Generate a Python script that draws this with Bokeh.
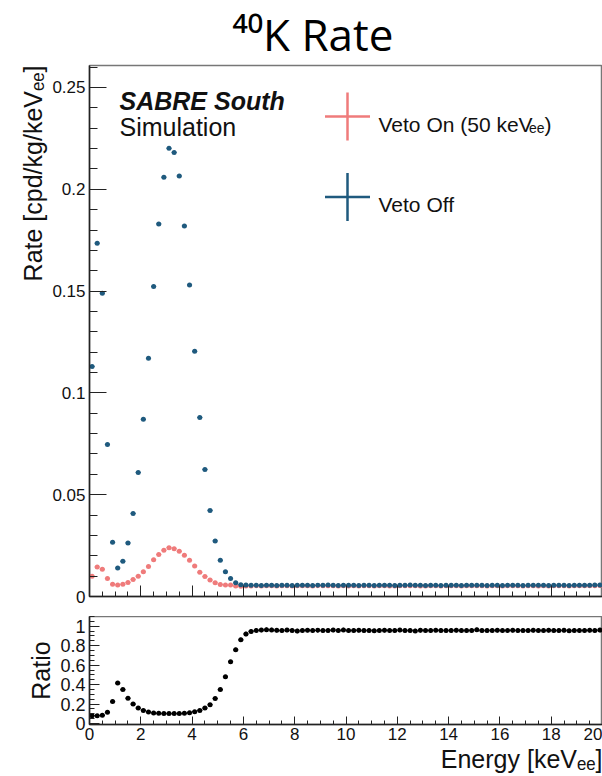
import math
from bokeh.plotting import figure
from bokeh.layouts import column
from bokeh.models import (ColumnDataSource, Range1d, SingleIntervalTicker,
                          NumeralTickFormatter, CustomJSTickFormatter, Label, Title)
from bokeh.embed import file_html
from bokeh.resources import INLINE

# ---------------- data ----------------
e_min, e_max, n_bins = 0.0, 20.0, 100
bin_w = (e_max - e_min) / n_bins
energy = [round(e_min + bin_w * (i + 0.5), 3) for i in range(n_bins)]  # bin centres [keVee]

rate_veto_off = [
    0.1130, 0.1735, 0.1490, 0.0747, 0.0266, 0.0140, 0.0173, 0.0263, 0.0408, 0.0609,
    0.0870, 0.1170, 0.1523, 0.1830, 0.2059, 0.2201, 0.2181, 0.2065, 0.1820, 0.1530,
    0.1204, 0.0879, 0.0624, 0.0423, 0.0273, 0.0178, 0.0121, 0.0088, 0.0067, 0.0058,
    0.0056, 0.0055, 0.0055, 0.0054, 0.0055, 0.0055, 0.0054, 0.0055, 0.0055, 0.0054,
    0.0055, 0.0055, 0.0055, 0.0054, 0.0055, 0.0055, 0.0056, 0.0055, 0.0054, 0.0055,
    0.0055, 0.0055, 0.0054, 0.0055, 0.0055, 0.0054, 0.0055, 0.0055, 0.0055, 0.0054,
    0.0055, 0.0055, 0.0056, 0.0055, 0.0055, 0.0054, 0.0055, 0.0055, 0.0054, 0.0055,
    0.0055, 0.0055, 0.0054, 0.0055, 0.0055, 0.0055, 0.0055, 0.0054, 0.0055, 0.0055,
    0.0054, 0.0055, 0.0055, 0.0055, 0.0054, 0.0055, 0.0055, 0.0055, 0.0055, 0.0054,
    0.0055, 0.0055, 0.0055, 0.0054, 0.0055, 0.0055, 0.0055, 0.0055, 0.0056, 0.0056,
]

rate_veto_on = [
    0.0100, 0.0145, 0.0134, 0.0088, 0.0060, 0.0057, 0.0060, 0.0069, 0.0083, 0.0100,
    0.0121, 0.0147, 0.0180, 0.0206, 0.0227, 0.0240, 0.0235, 0.0222, 0.0202, 0.0178,
    0.0150, 0.0119, 0.0098, 0.0081, 0.0067, 0.0059, 0.0056, 0.0056, 0.0051, 0.0050,
    0.0052, 0.0052, 0.0053, 0.0052, 0.0053, 0.0053, 0.0052, 0.0053, 0.0053, 0.0052,
    0.0053, 0.0053, 0.0053, 0.0052, 0.0053, 0.0053, 0.0053, 0.0053, 0.0052, 0.0053,
    0.0052, 0.0053, 0.0052, 0.0053, 0.0053, 0.0052, 0.0053, 0.0053, 0.0052, 0.0052,
    0.0053, 0.0053, 0.0053, 0.0053, 0.0052, 0.0052, 0.0053, 0.0053, 0.0052, 0.0053,
    0.0053, 0.0053, 0.0052, 0.0053, 0.0053, 0.0053, 0.0053, 0.0052, 0.0053, 0.0053,
    0.0052, 0.0053, 0.0053, 0.0053, 0.0052, 0.0053, 0.0053, 0.0052, 0.0053, 0.0052,
    0.0053, 0.0053, 0.0053, 0.0052, 0.0053, 0.0053, 0.0053, 0.0053, 0.0053, 0.0054,
]

ratio = [
    0.081, 0.081, 0.084, 0.115, 0.226, 0.416, 0.349, 0.260, 0.200, 0.159,
    0.135, 0.119, 0.109, 0.105, 0.102, 0.102, 0.102, 0.102, 0.105, 0.112,
    0.122, 0.135, 0.159, 0.193, 0.257, 0.349, 0.480, 0.636, 0.758, 0.860,
    0.920, 0.947, 0.957, 0.960, 0.965, 0.962, 0.958, 0.955, 0.960, 0.957,
    0.951, 0.957, 0.959, 0.956, 0.958, 0.955, 0.957, 0.960, 0.956, 0.962,
    0.955, 0.957, 0.958, 0.955, 0.957, 0.953, 0.957, 0.958, 0.957, 0.956,
    0.960, 0.955, 0.957, 0.952, 0.958, 0.957, 0.956, 0.959, 0.957, 0.955,
    0.957, 0.958, 0.955, 0.956, 0.957, 0.963, 0.955, 0.956, 0.957, 0.958,
    0.955, 0.957, 0.958, 0.956, 0.957, 0.955, 0.958, 0.957, 0.956, 0.958,
    0.957, 0.955, 0.958, 0.953, 0.957, 0.956, 0.957, 0.958, 0.955, 0.960,
]

ratio_err = [
    0.003, 0.003, 0.003, 0.004, 0.008, 0.012, 0.010, 0.008, 0.006, 0.005,
    0.004, 0.004, 0.003, 0.003, 0.003, 0.003, 0.003, 0.003, 0.003, 0.004,
    0.004, 0.004, 0.005, 0.006, 0.008, 0.011, 0.014, 0.018, 0.020, 0.021,
    0.022, 0.022, 0.022, 0.022, 0.022, 0.022, 0.022, 0.022, 0.022, 0.022,
    0.022, 0.022, 0.022, 0.022, 0.022, 0.022, 0.022, 0.022, 0.022, 0.022,
    0.022, 0.022, 0.022, 0.022, 0.022, 0.022, 0.022, 0.022, 0.022, 0.022,
    0.022, 0.022, 0.022, 0.022, 0.022, 0.022, 0.022, 0.022, 0.022, 0.022,
    0.022, 0.022, 0.022, 0.022, 0.022, 0.022, 0.022, 0.022, 0.022, 0.022,
    0.022, 0.022, 0.022, 0.022, 0.022, 0.022, 0.022, 0.022, 0.022, 0.022,
    0.022, 0.022, 0.022, 0.022, 0.022, 0.022, 0.022, 0.022, 0.022, 0.022,
]

# ---------------- style ----------------
BLUE = "#1f5a7e"
RED = "#ef7b7b"
FONT = "Liberation Sans"
AXC = "#222222"

# pixel layout of the frames (canvas pixels from top-left)
W, H = 602, 776
F_L, F_R = 89, 602
T_TOP, T_BOT = 65, 596
B_TOP, B_BOT = 616, 724
T_YMAX = 0.2608
B_YMIN, B_YMAX = -0.01, 1.10


def tx(px):
    return e_min + (px - F_L) / (F_R - F_L) * (e_max - e_min)


def ty(py):
    return (T_BOT - py) / (T_BOT - T_TOP) * T_YMAX


src = ColumnDataSource(dict(
    x=energy,
    x0=[v - bin_w / 2 for v in energy],
    x1=[v + bin_w / 2 for v in energy],
    off=rate_veto_off,
    on=rate_veto_on,
    r=ratio,
    rlo=[a - b for a, b in zip(ratio, ratio_err)],
    rhi=[a + b for a, b in zip(ratio, ratio_err)],
))


def style_axes(p, xlab_size, ylab_size, x_in, y_in):
    for ax in (p.xaxis[0], p.yaxis[0]):
        ax.axis_line_color = AXC
        ax.axis_line_width = 1.5
        ax.major_tick_line_color = AXC
        ax.minor_tick_line_color = AXC
        ax.major_tick_out = 0
        ax.minor_tick_out = 0
        ax.major_label_text_font = FONT
        ax.major_label_text_color = "#111111"
        ax.major_label_standoff = 4
    p.xaxis[0].major_tick_in = x_in
    p.xaxis[0].minor_tick_in = x_in // 2
    p.yaxis[0].major_tick_in = y_in
    p.yaxis[0].minor_tick_in = y_in // 2
    p.xaxis[0].major_label_text_font_size = xlab_size
    p.yaxis[0].major_label_text_font_size = ylab_size
    p.xgrid.visible = False
    p.ygrid.visible = False
    p.outline_line_color = "#777777"
    p.outline_line_width = 1.5
    p.background_fill_color = "white"
    p.border_fill_color = "white"


def lab(p, px, py, text, size, style="normal", font=FONT, align="left",
        baseline="alphabetic", color="#111111"):
    p.add_layout(Label(x=tx(px), y=ty(py), text=text, text_font=font, text_font_size=size,
                       text_font_style=style, text_align=align, text_baseline=baseline,
                       text_color=color))


# ---------------- top panel ----------------
top = figure(width=W, height=B_TOP, x_range=Range1d(e_min, e_max), y_range=Range1d(0, T_YMAX),
             output_backend="svg", toolbar_location=None,
             min_border_left=F_L, min_border_right=0, min_border_top=T_TOP,
             min_border_bottom=B_TOP - T_BOT)
top.xaxis[0].ticker = SingleIntervalTicker(interval=2, num_minor_ticks=4)
top.xaxis[0].formatter = CustomJSTickFormatter(code="return ''")
top.yaxis[0].ticker = SingleIntervalTicker(interval=0.05, num_minor_ticks=5)
top.yaxis[0].formatter = NumeralTickFormatter(format="0.[00]")
style_axes(top, "17px", "17px", 11, 17)

# title
top.title.text = "\u2074\u2070K Rate"
top.title.text_font = "Open Sans"
top.title.text_font_size = "44px"
top.title.text_font_style = "normal"
top.title.text_color = "#000000"
top.title.align = "left"
top.title.offset = 143
top.title.standoff = 3

# y-axis title, aligned to the top of the frame
top.add_layout(Title(text="Rate [cpd/kg/keV\u2091\u2091]", align="right", text_font=FONT,
                     text_font_size="25px", text_font_style="normal", text_color="#111111",
                     standoff=6), "left")

top.segment(x0="x0", y0="on", x1="x1", y1="on", source=src, line_color=RED, line_width=1)
top.scatter(x="x", y="on", source=src, size=5, color=RED, line_width=0)
top.segment(x0="x0", y0="off", x1="x1", y1="off", source=src, line_color=BLUE, line_width=1)
top.scatter(x="x", y="off", source=src, size=5, color=BLUE, line_width=0)

# legend crosses
for (cx, cy, col) in ((347, 116, RED), (347, 196.5, BLUE)):
    top.segment(x0=[tx(cx - 22.5)], y0=[ty(cy)], x1=[tx(cx + 22.5)], y1=[ty(cy)],
                line_color=col, line_width=2.5)
    top.segment(x0=[tx(cx)], y0=[ty(cy - 24)], x1=[tx(cx)], y1=[ty(cy + 24)],
                line_color=col, line_width=2.5)

# legend texts
lab(top, 378, 123.5, "Veto On (50 keV", "21px")
lab(top, 528.5, 127, "ee", "14px")
lab(top, 544, 123.5, ")", "21px")
lab(top, 378, 203.5, "Veto Off", "21px")

# experiment tag
lab(top, 119, 100, "SABRE South", "25px", style="bold italic")
lab(top, 119, 126, "Simulation", "25px")

# ---------------- ratio panel ----------------
bot = figure(width=W, height=H - B_TOP, x_range=top.x_range, y_range=Range1d(B_YMIN, B_YMAX),
             output_backend="svg", toolbar_location=None,
             min_border_left=F_L, min_border_right=0, min_border_top=0,
             min_border_bottom=H - B_BOT)
bot.xaxis[0].ticker = SingleIntervalTicker(interval=2, num_minor_ticks=4)
bot.yaxis[0].ticker = SingleIntervalTicker(interval=0.2, num_minor_ticks=4)
bot.yaxis[0].formatter = NumeralTickFormatter(format="0.[0]")
style_axes(bot, "17px", "18px", 8, 10)
bot.xaxis[0].major_label_standoff = 3

bot.yaxis[0].axis_label = "Ratio"
bot.yaxis[0].axis_label_text_font = FONT
bot.yaxis[0].axis_label_text_font_size = "25px"
bot.yaxis[0].axis_label_text_font_style = "normal"
bot.yaxis[0].axis_label_text_color = "#111111"
bot.yaxis[0].axis_label_standoff = 2

bot.add_layout(Title(text="Energy [keV\u2091\u2091]", align="right", text_font=FONT,
                     text_font_size="25px", text_font_style="normal", text_color="#111111",
                     standoff=1), "below")

bot.segment(x0="x0", y0="r", x1="x1", y1="r", source=src, line_color="black", line_width=1.2)
bot.segment(x0="x", y0="rlo", x1="x", y1="rhi", source=src, line_color="black", line_width=1.2)
bot.scatter(x="x", y="r", source=src, size=5, color="black", line_width=0)

layout = column(top, bot, spacing=0)
open("out.html", "w").write(file_html(layout, INLINE))
